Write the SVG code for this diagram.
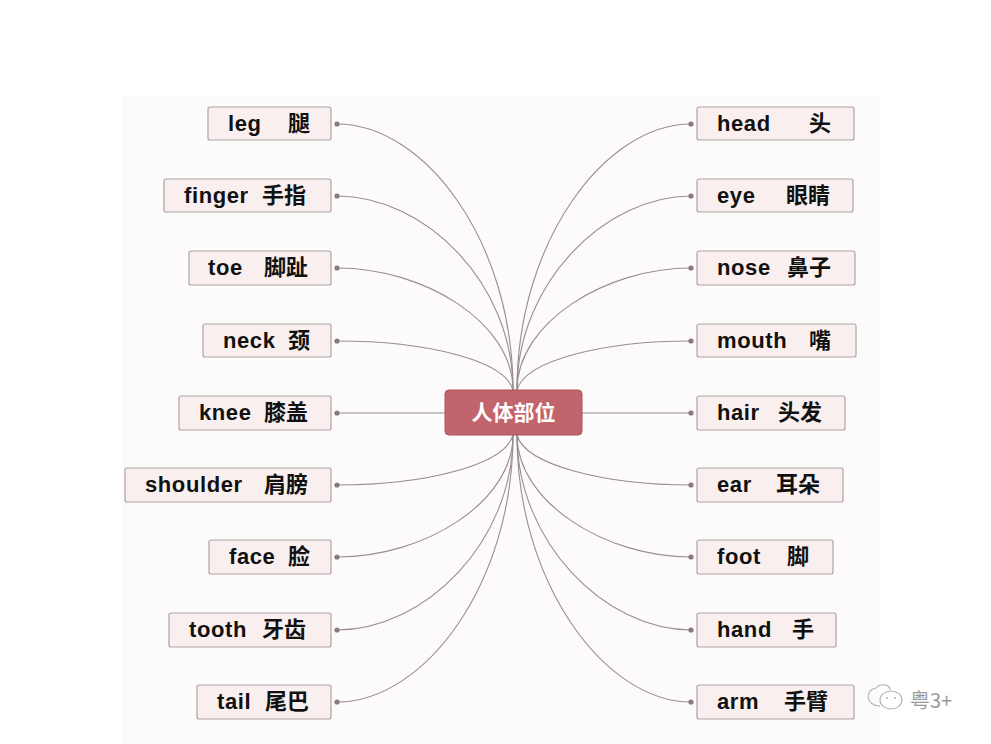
<svg xmlns="http://www.w3.org/2000/svg" width="991" height="744" viewBox="0 0 991 744">
<defs>
<style>
.bg{fill:#fdfafb}
.box{fill:#f9efef;stroke:#ada3a4;stroke-width:1.2}
.lbl{font-family:"Liberation Sans","Noto Sans CJK SC",sans-serif;font-weight:bold;font-size:22px;letter-spacing:0.6px;fill:#111}
.cn{font-family:"Noto Sans CJK SC",sans-serif;font-weight:bold;font-size:22px;letter-spacing:0}
.line{fill:none;stroke:#9b8c90;stroke-width:1.1}
.dot{fill:#8a7a7f}
.center{fill:#c2646c;stroke:#a9525a;stroke-width:1}
.ctext{font-family:"Noto Sans CJK SC",sans-serif;font-weight:bold;font-size:21px;fill:#fff}
.wm{font-family:"Noto Sans CJK SC",sans-serif;font-size:20px;fill:#9a9a9a}
</style>
</defs>
<rect width="991" height="744" fill="#ffffff"/>
<rect class="bg" x="122" y="96" width="758" height="648"/>
<g id="connectors">
<path class="line" d="M337,124 C425,124 513,242 513,390"/>
<path class="line" d="M337,196 C425,196 513,283 513,390"/>
<path class="line" d="M337,268 C425,268 513,323 513,390"/>
<path class="line" d="M337,341 C425,341 505,360 513,390"/>
<path class="line" d="M337,413 L445,413"/>
<path class="line" d="M337,485 C425,485 505,465 513,435"/>
<path class="line" d="M337,557 C425,557 513,502 513,435"/>
<path class="line" d="M337,630 C425,630 513,542 513,435"/>
<path class="line" d="M337,702 C425,702 513,583 513,435"/>
<path class="line" d="M691,124 C605,124 517,242 517,390"/>
<path class="line" d="M691,196 C605,196 517,283 517,390"/>
<path class="line" d="M691,268 C605,268 517,323 517,390"/>
<path class="line" d="M691,341 C605,341 525,360 517,390"/>
<path class="line" d="M691,413 L582,413"/>
<path class="line" d="M691,485 C605,485 525,465 517,435"/>
<path class="line" d="M691,557 C605,557 517,502 517,435"/>
<path class="line" d="M691,630 C605,630 517,542 517,435"/>
<path class="line" d="M691,702 C605,702 517,583 517,435"/>
<circle class="dot" cx="337" cy="124" r="2.6"/>
<circle class="dot" cx="337" cy="196" r="2.6"/>
<circle class="dot" cx="337" cy="268" r="2.6"/>
<circle class="dot" cx="337" cy="341" r="2.6"/>
<circle class="dot" cx="337" cy="413" r="2.6"/>
<circle class="dot" cx="337" cy="485" r="2.6"/>
<circle class="dot" cx="337" cy="557" r="2.6"/>
<circle class="dot" cx="337" cy="630" r="2.6"/>
<circle class="dot" cx="337" cy="702" r="2.6"/>
<circle class="dot" cx="691" cy="124" r="2.6"/>
<circle class="dot" cx="691" cy="196" r="2.6"/>
<circle class="dot" cx="691" cy="268" r="2.6"/>
<circle class="dot" cx="691" cy="341" r="2.6"/>
<circle class="dot" cx="691" cy="413" r="2.6"/>
<circle class="dot" cx="691" cy="485" r="2.6"/>
<circle class="dot" cx="691" cy="557" r="2.6"/>
<circle class="dot" cx="691" cy="630" r="2.6"/>
<circle class="dot" cx="691" cy="702" r="2.6"/>
</g>
<g id="center">
<rect class="center" x="445" y="390" width="137" height="45" rx="4"/>
<text class="ctext" x="513.5" y="420" text-anchor="middle">人体部位</text>
</g>
<g id="leg"><rect class="box" x="208" y="107" width="123" height="33" rx="2"/><text class="lbl" y="131"><tspan x="228">leg</tspan><tspan class="cn" x="288">腿</tspan></text></g>
<g id="finger"><rect class="box" x="164" y="179" width="167" height="33" rx="2"/><text class="lbl" y="203"><tspan x="184">finger</tspan><tspan class="cn" x="262">手指</tspan></text></g>
<g id="toe"><rect class="box" x="189" y="251" width="142" height="34" rx="2"/><text class="lbl" y="275"><tspan x="208">toe</tspan><tspan class="cn" x="264">脚趾</tspan></text></g>
<g id="neck"><rect class="box" x="203" y="324" width="128" height="33" rx="2"/><text class="lbl" y="348"><tspan x="223">neck</tspan><tspan class="cn" x="288">颈</tspan></text></g>
<g id="knee"><rect class="box" x="179" y="396" width="152" height="34" rx="2"/><text class="lbl" y="420"><tspan x="199">knee</tspan><tspan class="cn" x="264">膝盖</tspan></text></g>
<g id="shoulder"><rect class="box" x="125" y="468" width="206" height="34" rx="2"/><text class="lbl" y="492"><tspan x="145">shoulder</tspan><tspan class="cn" x="264">肩膀</tspan></text></g>
<g id="face"><rect class="box" x="209" y="540" width="122" height="34" rx="2"/><text class="lbl" y="564"><tspan x="229">face</tspan><tspan class="cn" x="288">脸</tspan></text></g>
<g id="tooth"><rect class="box" x="169" y="613" width="162" height="34" rx="2"/><text class="lbl" y="637"><tspan x="189">tooth</tspan><tspan class="cn" x="262">牙齿</tspan></text></g>
<g id="tail"><rect class="box" x="197" y="685" width="134" height="34" rx="2"/><text class="lbl" y="709"><tspan x="217">tail</tspan><tspan class="cn" x="265">尾巴</tspan></text></g>
<g id="head"><rect class="box" x="697" y="107" width="157" height="33" rx="2"/><text class="lbl" y="131"><tspan x="717">head</tspan><tspan class="cn" x="809">头</tspan></text></g>
<g id="eye"><rect class="box" x="697" y="179" width="156" height="33" rx="2"/><text class="lbl" y="203"><tspan x="717">eye</tspan><tspan class="cn" x="786">眼睛</tspan></text></g>
<g id="nose"><rect class="box" x="697" y="251" width="158" height="34" rx="2"/><text class="lbl" y="275"><tspan x="717">nose</tspan><tspan class="cn" x="787">鼻子</tspan></text></g>
<g id="mouth"><rect class="box" x="697" y="324" width="159" height="33" rx="2"/><text class="lbl" y="348"><tspan x="717">mouth</tspan><tspan class="cn" x="809">嘴</tspan></text></g>
<g id="hair"><rect class="box" x="697" y="396" width="148" height="34" rx="2"/><text class="lbl" y="420"><tspan x="717">hair</tspan><tspan class="cn" x="778">头发</tspan></text></g>
<g id="ear"><rect class="box" x="697" y="468" width="146" height="34" rx="2"/><text class="lbl" y="492"><tspan x="717">ear</tspan><tspan class="cn" x="776">耳朵</tspan></text></g>
<g id="foot"><rect class="box" x="697" y="540" width="136" height="34" rx="2"/><text class="lbl" y="564"><tspan x="717">foot</tspan><tspan class="cn" x="787">脚</tspan></text></g>
<g id="hand"><rect class="box" x="697" y="613" width="139" height="34" rx="2"/><text class="lbl" y="637"><tspan x="717">hand</tspan><tspan class="cn" x="792">手</tspan></text></g>
<g id="arm"><rect class="box" x="697" y="685" width="157" height="34" rx="2"/><text class="lbl" y="709"><tspan x="717">arm</tspan><tspan class="cn" x="784">手臂</tspan></text></g>
<g id="watermark" fill="none" stroke="#b5b5b5" stroke-width="1.2">
<path d="M880,706 C866,706 864,690 876,688 C880,683 890,684 890,690"/>
<ellipse cx="891" cy="700" rx="11" ry="9" fill="#ffffff"/>
<circle cx="887" cy="698" r="1" fill="#b5b5b5" stroke="none"/>
<circle cx="895" cy="698" r="1" fill="#b5b5b5" stroke="none"/>
<text class="wm" x="910" y="708" stroke="none">粤3+</text>
</g>
</svg>
